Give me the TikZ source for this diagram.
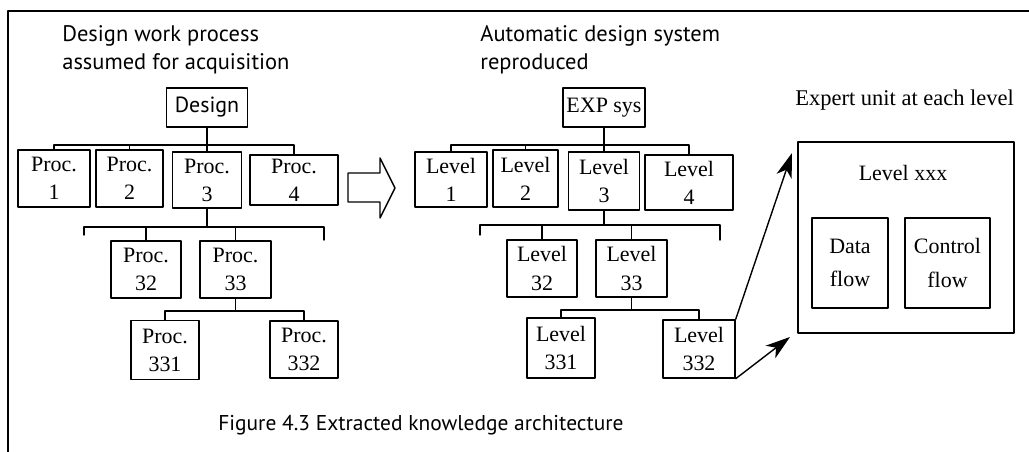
\documentclass[tikz,border=0pt]{standalone}
\usepackage{fontspec}
\setmainfont{Liberation Serif}
\newfontfamily\humfont{PT Sans}
\usepackage{tikz}
\usetikzlibrary{arrows.meta}

\begin{document}
\begin{tikzpicture}[line cap=round,line join=round,>={Stealth[length=14pt,width=9pt,inset=4pt]},x=0.02cm,y=-0.02cm,
  sz/.style 2 args={minimum width=#1*0.02cm,minimum height=#2*0.02cm},
  box/.style={draw,thick,rectangle,inner sep=1pt,align=center,font=\fontsize{12.5}{16}\selectfont},
  hbox/.style={box,font=\humfont\fontsize{12.5}{16}\selectfont},
  title/.style={align=left,anchor=west,inner sep=0pt,font=\humfont\fontsize{12.8}{16}\selectfont},
  wire/.style={thick}]
\useasboundingbox (0,0) rectangle (1029,452);
\draw[thick] (8,452) -- (8,11) -- (1029,11);
% left: design work process
\node[title] (ttl1) at (62,50) {Design work process\\assumed for acquisition};
\node[hbox,sz={81}{39}] (design) at (207,107.5) {Design};
\node[box,sz={72}{57}] (p1) at (54,178.5) {Proc.\\1};
\node[box,sz={67}{57}] (p2) at (129.5,178.5) {Proc.\\2};
\node[box,sz={69}{56}] (p3) at (207,180) {Proc.\\3};
\node[box,sz={88}{50}] (p4) at (294,180) {Proc.\\4};
\node[box,sz={70}{57}] (p32) at (146,269.5) {Proc.\\32};
\node[box,sz={71}{57}] (p33) at (235.5,269.5) {Proc.\\33};
\node[box,sz={68}{59}] (p331) at (165,350) {Proc.\\331};
\node[box,sz={68}{57}] (p332) at (304,349.5) {Proc.\\332};
\coordinate (lb1) at (0,145);
\coordinate (lb2) at (0,227);
\coordinate (lb3) at (0,311);
\draw[wire] (design.south) -- (p3.north);
\draw[wire] (p1.north) -- (p1.north |- lb1) -- (p4.north |- lb1) -- (p4.north);
\draw[wire] (p2.north) -- (p2.north |- lb1);
\draw[wire] (p3.south) -- (p3.south |- lb2);
\draw[wire] (84,235) -- (84,227) -- (324,227) -- (324,240);
\draw[wire] (p32.north) -- (p32.north |- lb2);
\draw[wire] (p33.north) -- (p33.north |- lb2);
\draw[wire] (p33.south) -- (p33.south |- lb3);
\draw[wire] (p331.north) -- (p331.north |- lb3) -- (p332.north |- lb3) -- (p332.north);
% hollow arrow
\draw[thick] (348,173) -- (380,173) -- (380,158) -- (395,188) -- (380,218) -- (380,202) -- (348,202) -- cycle;
% right: automatic design system
\node[title] (ttl2) at (480,50) {Automatic design system\\reproduced};
\node[box,sz={82}{39}] (exp) at (604,107.5) {EXP sys};
\node[box,sz={72}{55}] (l1) at (451,179.5) {Level\\1};
\node[box,sz={65}{57}] (l2) at (525.5,178.5) {Level\\2};
\node[box,sz={71}{58}] (l3) at (604,181) {Level\\3};
\node[box,sz={88}{55}] (l4) at (689,182.5) {Level\\4};
\node[box,sz={70}{57}] (l32) at (542,268.5) {Level\\32};
\node[box,sz={71}{57}] (l33) at (631.5,268.5) {Level\\33};
\node[box,sz={68}{60}] (l331) at (561,348) {Level\\331};
\node[box,sz={72}{58}] (l332) at (699,349) {Level\\332};
\coordinate (rb1) at (0,145);
\coordinate (rb2) at (0,225);
\coordinate (rb3) at (0,310);
\draw[wire] (exp.south) -- (l3.north);
\draw[wire] (l1.north) -- (l1.north |- rb1) -- (l4.north |- rb1) -- (l4.north);
\draw[wire] (l2.north) -- (l2.north |- rb1);
\draw[wire] (l3.south) -- (l3.south |- rb2);
\draw[wire] (480,235) -- (480,225) -- (720,225) -- (720,240);
\draw[wire] (l32.north) -- (l32.north |- rb2);
\draw[wire] (l33.north) -- (l33.north |- rb2);
\draw[wire] (l33.south) -- (l33.south |- rb3);
\draw[wire] (l331.north) -- (l331.north |- rb3) -- (l332.north |- rb3) -- (l332.north);
% expert unit
\node[title,font=\fontsize{12.8}{15}\selectfont] (ttl3) at (795,100) {Expert unit at each level};
\node[box,sz={216}{191}] (unit) at (906,237.5) {};
\node[font=\fontsize{12.5}{15}\selectfont] (lvx) at (903,173) {Level xxx};
\node[box,sz={76}{90},font=\fontsize{12.5}{19}\selectfont] (data) at (850,263) {Data\\flow};
\node[box,sz={85}{90},font=\fontsize{12.5}{19}\selectfont] (ctrl) at (947.5,263) {Control\\flow};
\draw[->,thick] (l332.north east) -- (792,153);
\draw[->,thick] (l332.south east) -- (790,337);
% caption
\node[anchor=west,inner sep=0pt,font=\humfont\fontsize{12.2}{15}\selectfont] (cap) at (218,425) {Figure 4.3 Extracted knowledge architecture};
\end{tikzpicture}
\end{document}
